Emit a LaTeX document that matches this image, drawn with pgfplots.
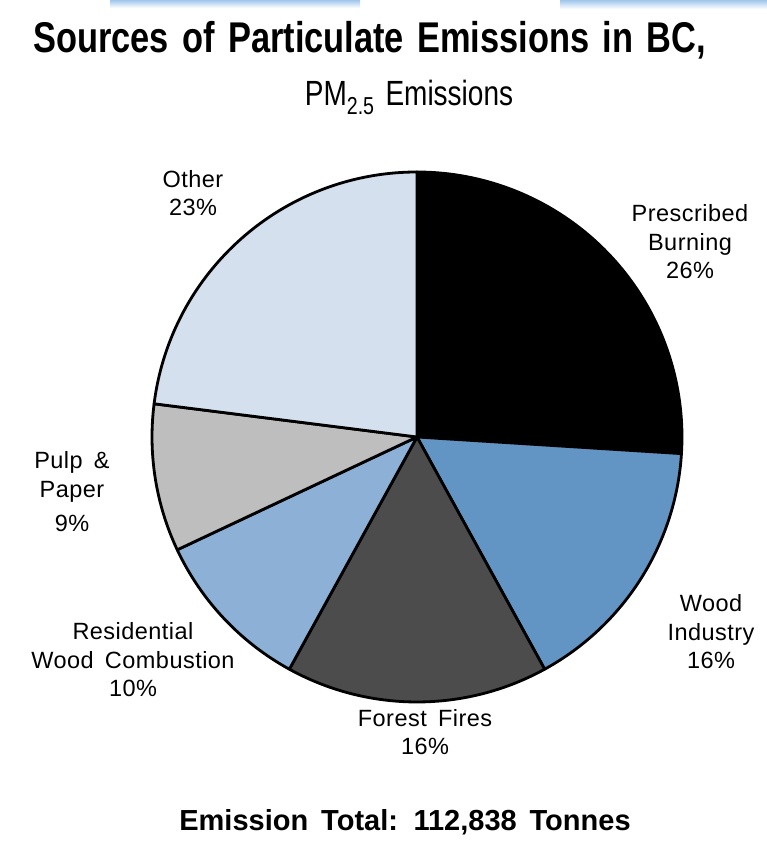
\documentclass[border=0pt]{standalone}
\usepackage{pgfplots}
\pgfplotsset{compat=1.18}
\usepackage{fontspec}
\setmainfont{Liberation Sans}
\newfontfamily\titlefont[FakeStretch=0.8,WordSpace=1.4]{Liberation Sans}
\newfontfamily\labelfont[WordSpace=1.6,LetterSpace=2]{Liberation Sans}

\definecolor{cPB}{RGB}{0,0,0}
\definecolor{cWI}{RGB}{98,148,196}
\definecolor{cFF}{RGB}{76,76,76}
\definecolor{cRW}{RGB}{140,176,214}
\definecolor{cPP}{RGB}{190,190,190}
\definecolor{cOT}{RGB}{212,224,238}
\definecolor{band}{RGB}{160,198,236}

% #1 = cumulative share before the slice (%), #2 = share (%), #3 = colour
\newcommand{\slice}[3]{%
  \filldraw[fill=#3,draw=black,line width=2.8pt,line join=round]
    (axis cs:0,0) -- ++({90-3.6*#1}:265pt)
    arc[start angle={90-3.6*#1},delta angle={-3.6*#2},radius=265pt] -- cycle;}

\begin{document}
\begin{tikzpicture}
\useasboundingbox (0,0) rectangle (767pt,849pt);
% faint blue band along the top edge of the original slide
\shade[top color=band,bottom color=white] (110pt,841pt) rectangle (360pt,849pt);
\shade[top color=band,bottom color=white] (560pt,840pt) rectangle (767pt,849pt);

\begin{axis}[
  at={(417pt,412pt)}, anchor=center,
  scale only axis, width=530pt, height=530pt,
  xmin=-1, xmax=1, ymin=-1, ymax=1,
  hide axis, clip=false]
  % share of PM2.5 emissions, in per cent
  \slice{0}{26}{cPB}  % Prescribed Burning
  \slice{26}{16}{cWI} % Wood Industry
  \slice{42}{16}{cFF} % Forest Fires
  \slice{58}{10}{cRW} % Residential Wood Combustion
  \slice{68}{9}{cPP}  % Pulp & Paper
  \slice{77}{23}{cOT} % Other
\end{axis}

\node[anchor=base west,inner sep=0pt] at (33pt,796pt)
  {\titlefont\bfseries\fontsize{43}{48}\selectfont Sources of Particulate Emissions in BC,};
\node[anchor=base,inner sep=0pt] at (409pt,743pt)
  {\titlefont\fontsize{35}{40}\selectfont PM\textsubscript{2.5} Emissions};

\begin{scope}[every node/.style={align=center,inner sep=0pt,
    font=\labelfont\fontsize{23.5}{28.5}\selectfont}]
  \node at (690pt,607pt) {Prescribed\\Burning\\26\%};
  \node at (193pt,656pt) {Other\\23\%};
  \node at (711pt,217pt) {Wood\\Industry\\16\%};
  \node at (425pt,117pt) {Forest Fires\\16\%};
  \node at (133pt,189pt) {Residential\\Wood Combustion\\10\%};
  \node at (72pt,357pt) {Pulp \&\\Paper\\[6pt]9\%};
\end{scope}

\node[anchor=base,inner sep=0pt] at (405pt,19pt)
  {\fontspec[WordSpace=1.6]{Liberation Sans}\bfseries\fontsize{29}{34}\selectfont Emission Total: 112,838 Tonnes};
\end{tikzpicture}
\end{document}
